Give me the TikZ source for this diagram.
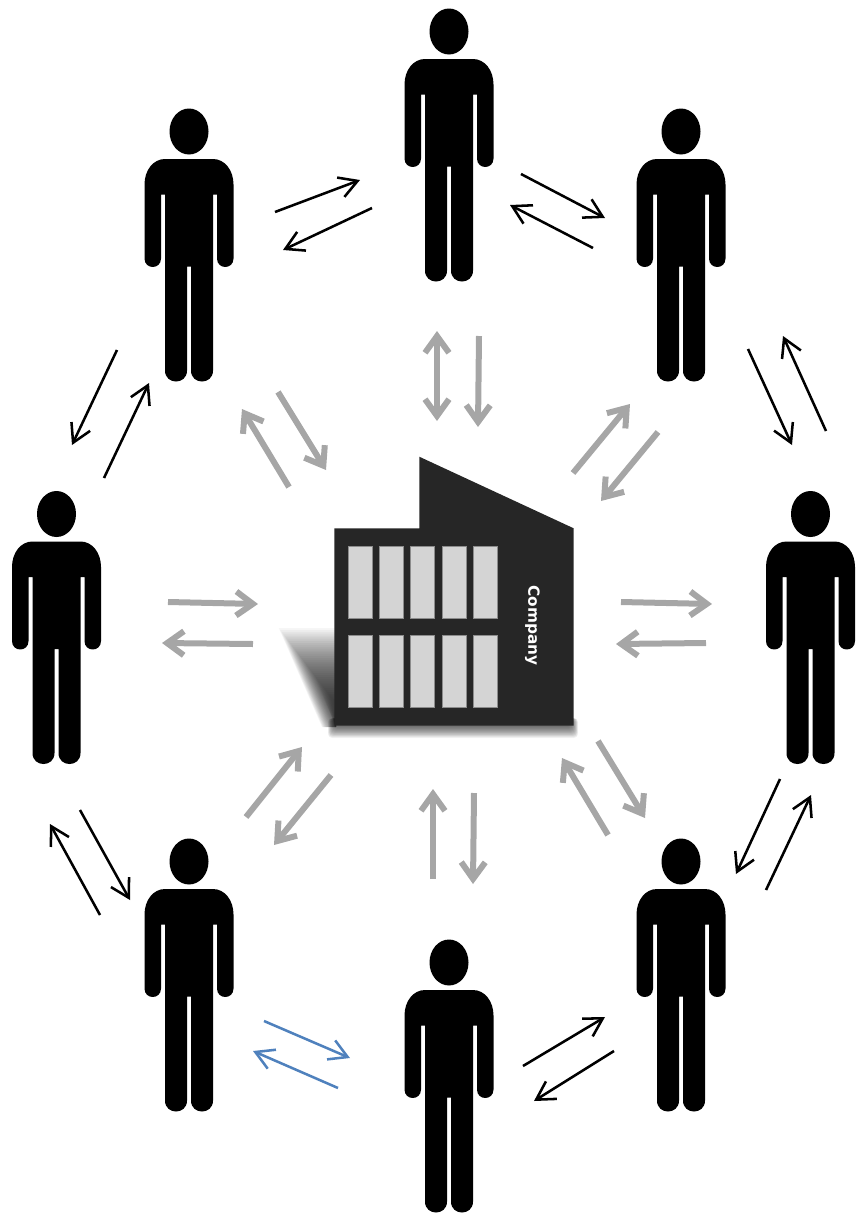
\documentclass[tikz,border=0pt]{standalone}
\usepackage{fontspec}
\setsansfont{DejaVu Sans}
\usetikzlibrary{arrows.meta}
\definecolor{bldg}{HTML}{262626}
\definecolor{winfill}{HTML}{D4D4D4}
\definecolor{winedge}{HTML}{8C8C8C}
\definecolor{greyarrow}{HTML}{A6A6A6}
\definecolor{bluearrow}{HTML}{4F81BD}
\tikzset{
  thinarrow/.style={line width=1.9pt,-{Straight Barb[length=13.5pt,width=15.5pt]}},
  blackarrow/.style={thinarrow,draw=black},
  bluelink/.style={thinarrow,draw=bluearrow},
  greylink/.style={line width=4.5pt,draw=greyarrow,-{Straight Barb[length=12.5pt,width=18pt]}},
  greydouble/.style={line width=4.5pt,draw=greyarrow,{Straight Barb[length=12.5pt,width=18pt]}-{Straight Barb[length=12.5pt,width=18pt]}},
  windowbox/.style={fill=winfill,draw=winedge,line width=.3pt},
  person/.pic={
    \fill[black] (0,31) ellipse [x radius=19.5,y radius=23];
    \fill[black] (-24,58.5) -- (24,58.5)
      .. controls (36,58.5) and (44.5,70) .. (44.5,84) -- (44.5,158)
      .. controls (44.5,169.3) and (28,169.3) .. (28,158) -- (28,94) -- (24,94) -- (24,270)
      .. controls (24,284.7) and (2,284.7) .. (2,270) -- (2,166) -- (-2,166) -- (-2,270)
      .. controls (-2,284.7) and (-24,284.7) .. (-24,270) -- (-24,94) -- (-28,94) -- (-28,158)
      .. controls (-28,169.3) and (-44.5,169.3) .. (-44.5,158) -- (-44.5,84)
      .. controls (-44.5,70) and (-36,58.5) .. (-24,58.5) -- cycle;
  }
}
\newcommand{\conn}[4]{%
  \coordinate (#2-a) at (#3);
  \coordinate (#2-b) at (#4);
  \draw[#1] (#2-a) -- (#2-b);
}
\begin{document}
\begin{tikzpicture}[x=.75pt,y=-.75pt]
\useasboundingbox (0,0) rectangle (865,1225);
% people
\pic at (449,0.5) {person};
\pic at (189,100.5) {person};
\pic at (681,100.5) {person};
\pic at (56.5,483) {person};
\pic at (810.5,483) {person};
\pic at (189,830.5) {person};
\pic at (681,830.5) {person};
\pic at (449,931.5) {person};
% black links
\conn{blackarrow}{a1}{275,212}{360,180}
\conn{blackarrow}{a2}{372,208}{283,250}
\conn{blackarrow}{a3}{521,174}{605,218}
\conn{blackarrow}{a4}{593,248}{510,205}
\conn{blackarrow}{a5}{748,349}{792,445}
\conn{blackarrow}{a6}{826,431}{783,336}
\conn{blackarrow}{a7}{780,779}{736,874}
\conn{blackarrow}{a8}{766,890}{811,795}
\conn{blackarrow}{a9}{614,1051}{534,1101}
\conn{blackarrow}{a10}{523,1066}{605,1017}
\conn{bluelink}{a11}{338,1088}{253,1051}
\conn{bluelink}{a12}{264,1021}{350,1058}
\conn{blackarrow}{a13}{100,915}{50,824}
\conn{blackarrow}{a14}{80,810}{130,900}
\conn{blackarrow}{a15}{104,478}{149,383}
\conn{blackarrow}{a16}{117,350}{72,445}
% grey links
\conn{greydouble}{g1}{437,421}{437,331}
\conn{greylink}{g2}{479,336}{478,427}
\conn{greylink}{g3}{573,473}{630,404}
\conn{greylink}{g4}{658,432}{601,501}
\conn{greylink}{g5}{621,602}{712,604}
\conn{greylink}{g6}{706,643}{616,644}
\conn{greylink}{g7}{598,741}{645,818}
\conn{greylink}{g8}{608,835}{562,758}
\conn{greylink}{g9}{433,879}{433,789}
\conn{greylink}{g10}{474,793}{473,884}
\conn{greylink}{g11}{331,775}{274,845}
\conn{greylink}{g12}{246,817}{302,747}
\conn{greylink}{g13}{168,602}{258,604}
\conn{greylink}{g14}{253,644}{162,643}
\conn{greylink}{g15}{278,392}{326,470}
\conn{greylink}{g16}{289,487}{242,409}
% building shadows
\foreach \t in {0,0.02,...,1}{
  \pgfmathsetmacro{\yt}{628+94*\t}
  \pgfmathsetmacro{\xt}{min(336,284+(\yt-640)*0.437+30*\t)}
  \pgfmathsetmacro{\xb}{min(336,284+87*0.437+30*\t)}
  \fill[black,opacity=.034] (336,\yt) -- (\xt,\yt) -- (\xb,727) -- (336,727) -- cycle;
}
\foreach \t in {0,0.5,...,9.5}{
  \fill[black,opacity=.042,rounded corners=3pt] ({328+\t*.7},718) rectangle ({578-\t*.7},{738-\t*1.3});
}
% building
\fill[bldg] (334.3,528.3) -- (419.3,528.3) -- (419.3,456.7) -- (573.7,528.3) -- (573.7,725.7) -- (334.3,725.7) -- cycle;
\foreach \x in {348.3,378.7,410.3,442,473.3}{
  \path[windowbox] (\x,545.7) rectangle (\x+24,617.7);
  \path[windowbox] (\x,634.7) rectangle (\x+24,706.7);
}
\node[rotate=-90,text=white,inner sep=0pt,font=\sffamily\bfseries\fontsize{11.5pt}{12pt}\selectfont] (company) at (532.5,625.5) {Company};
\end{tikzpicture}
\end{document}
